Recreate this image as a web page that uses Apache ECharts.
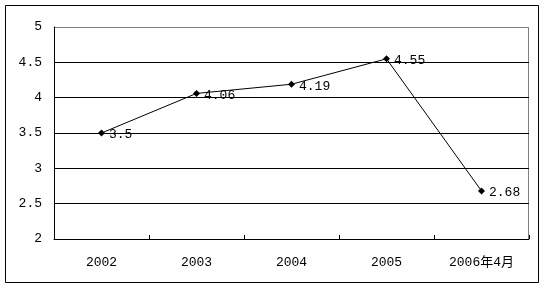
<!DOCTYPE html>
<html><head><meta charset="utf-8">
<script src="https://cdn.jsdelivr.net/npm/echarts@6/dist/echarts.min.js"></script>
<style>html,body{margin:0;padding:0;background:#fff}#c{width:546px;height:289px}</style>
</head><body><div id="c"></div>
<script>
const categories = ['2002', '2003', '2004', '2005', '2006年4月'];
const values = [3.5, 4.06, 4.19, 4.55, 2.68];
const yTicks = [2, 2.5, 3, 3.5, 4, 4.5, 5];

const chart = echarts.init(document.getElementById('c'), null, {renderer: 'canvas'});
const font = '"Liberation Mono", "Noto Sans CJK SC", monospace';
chart.setOption({
  animation: false,
  backgroundColor: '#fff',
  graphic: [
    {type: 'rect', shape: {x: 5.5, y: 5.5, width: 533, height: 277}, style: {fill: 'none', stroke: '#000', lineWidth: 1}, z: 0},
    {type: 'line', shape: {x1: 528.5, y1: 27, x2: 528.5, y2: 239}, style: {stroke: '#808080', lineWidth: 1}, z: 0}
  ],
  grid: {left: 54, top: 27, right: 17, bottom: 50, containLabel: false},
  xAxis: {
    type: 'category', data: categories, boundaryGap: true,
    axisLine: {lineStyle: {color: '#000', width: 1}},
    axisTick: {show: true, inside: true, length: 4, lineStyle: {color: '#000'}},
    axisLabel: {color: '#000', fontSize: 13, fontFamily: font, margin: 17}
  },
  yAxis: {
    type: 'value', min: yTicks[0], max: yTicks[yTicks.length - 1], interval: 0.5,
    axisLine: {show: true, lineStyle: {color: '#000', width: 1}},
    axisTick: {show: false},
    axisLabel: {color: '#000', fontSize: 13, fontFamily: font, margin: 12},
    splitLine: {show: true, lineStyle: {color: ['#000', '#000', '#000', '#000', '#000', '#000', '#808080'], width: 1}}
  },
  series: [{
    type: 'line', data: values,
    symbol: 'diamond', symbolSize: 7,
    itemStyle: {color: '#000'},
    lineStyle: {color: '#000', width: 1},
    label: {show: true, position: 'right', distance: 4, offset: [0, 2], color: '#000', fontSize: 13, fontFamily: font, formatter: p => String(p.value)}
  }]
});
</script></body></html>
